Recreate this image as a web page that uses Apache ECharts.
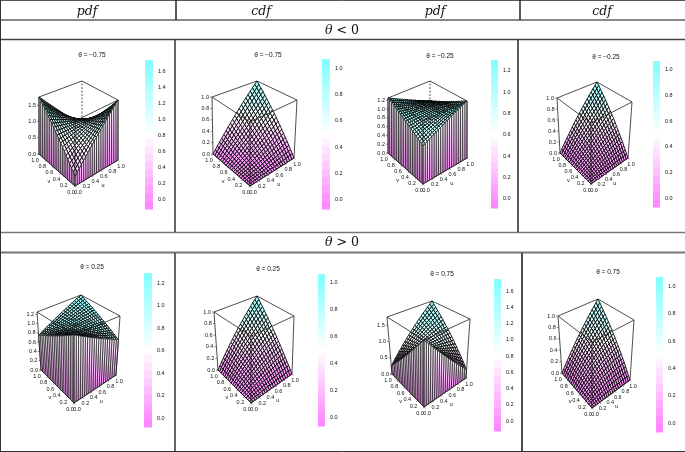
<!DOCTYPE html>
<html><head><meta charset="utf-8">
<style>html,body{margin:0;padding:0;background:#fff}#c{width:685px;height:452px}</style>
<script src="https://cdn.jsdelivr.net/npm/echarts@6/dist/echarts.min.js"></script>
</head><body><div id="c"></div>
<script>
// Surfaces on a 21x21 u,v grid: upper-triangular rows (v index >= u index), the plots are symmetric in u and v.
const pdfM75=[[.25,.33,.40,.48,.55,.63,.70,.78,.85,.93,1,1.08,1.15,1.23,1.30,1.38,1.45,1.53,1.60,1.68,1.75],
[.39,.46,.53,.60,.66,.73,.80,.87,.93,1,1.07,1.14,1.20,1.27,1.34,1.41,1.47,1.54,1.61,1.68],
[.52,.58,.64,.70,.76,.82,.88,.94,1,1.06,1.12,1.18,1.24,1.30,1.36,1.42,1.48,1.54,1.60],
[.63,.69,.74,.79,.84,.90,.95,1,1.05,1.11,1.16,1.21,1.26,1.32,1.37,1.42,1.47,1.53],
[.73,.78,.82,.87,.91,.96,1,1.05,1.09,1.14,1.18,1.23,1.27,1.32,1.36,1.41,1.45],
[.81,.85,.89,.93,.96,1,1.04,1.08,1.11,1.15,1.19,1.23,1.26,1.30,1.34,1.38],
[.88,.91,.94,.97,1,1.03,1.06,1.09,1.12,1.15,1.18,1.21,1.24,1.27,1.30],
[.93,.96,.98,1,1.02,1.05,1.07,1.09,1.11,1.14,1.16,1.18,1.20,1.23],
[.97,.99,1,1.02,1.03,1.05,1.06,1.08,1.09,1.11,1.12,1.14,1.15],
[.99,1,1.01,1.02,1.02,1.03,1.04,1.05,1.05,1.06,1.07,1.08],
[1,1,1,1,1,1,1,1,1,1,1],
[.99,.99,.98,.97,.96,.96,.95,.94,.93,.93],
[.97,.96,.94,.93,.91,.90,.88,.87,.85],
[.93,.91,.89,.87,.84,.82,.80,.78],
[.88,.85,.82,.79,.76,.73,.70],
[.81,.78,.74,.70,.66,.63],
[.73,.69,.64,.60,.55],
[.63,.58,.53,.48],
[.52,.46,.40],
[.39,.33],
[.25]];
const pdfM25=[[.75,.78,.80,.83,.85,.88,.90,.93,.95,.98,1,1.03,1.05,1.08,1.10,1.13,1.15,1.18,1.20,1.23,1.25],
[.80,.82,.84,.87,.89,.91,.93,.96,.98,1,1.02,1.05,1.07,1.09,1.11,1.14,1.16,1.18,1.20,1.23],
[.84,.86,.88,.90,.92,.94,.96,.98,1,1.02,1.04,1.06,1.08,1.10,1.12,1.14,1.16,1.18,1.20],
[.88,.90,.91,.93,.95,.97,.98,1,1.02,1.04,1.05,1.07,1.09,1.11,1.12,1.14,1.16,1.18],
[.91,.93,.94,.96,.97,.99,1,1.02,1.03,1.05,1.06,1.08,1.09,1.11,1.12,1.14,1.15],
[.94,.95,.96,.98,.99,1,1.01,1.03,1.04,1.05,1.06,1.08,1.09,1.10,1.11,1.13],
[.96,.97,.98,.99,1,1.01,1.02,1.03,1.04,1.05,1.06,1.07,1.08,1.09,1.10],
[.98,.99,.99,1,1.01,1.02,1.02,1.03,1.04,1.05,1.05,1.06,1.07,1.08],
[.99,1,1,1.01,1.01,1.02,1.02,1.03,1.03,1.04,1.04,1.05,1.05],
[1,1,1,1.01,1.01,1.01,1.01,1.02,1.02,1.02,1.02,1.03],
[1,1,1,1,1,1,1,1,1,1,1],
[1,1,.99,.99,.99,.99,.98,.98,.98,.98],
[.99,.99,.98,.98,.97,.97,.96,.96,.95],
[.98,.97,.96,.96,.95,.94,.93,.93],
[.96,.95,.94,.93,.92,.91,.90],
[.94,.93,.91,.90,.89,.88],
[.91,.90,.88,.87,.85],
[.88,.86,.84,.83],
[.84,.82,.80],
[.80,.78],
[.75]];
const pdfP25=[[1.25,1.23,1.20,1.18,1.15,1.13,1.10,1.08,1.05,1.03,1,.98,.95,.93,.90,.88,.85,.83,.80,.78,.75],
[1.20,1.18,1.16,1.13,1.11,1.09,1.07,1.04,1.02,1,.98,.95,.93,.91,.89,.86,.84,.82,.80,.77],
[1.16,1.14,1.12,1.10,1.08,1.06,1.04,1.02,1,.98,.96,.94,.92,.90,.88,.86,.84,.82,.80],
[1.12,1.10,1.09,1.07,1.05,1.03,1.02,1,.98,.96,.95,.93,.91,.89,.88,.86,.84,.82],
[1.09,1.07,1.06,1.04,1.03,1.01,1,.98,.97,.95,.94,.92,.91,.89,.88,.86,.85],
[1.06,1.05,1.04,1.02,1.01,1,.99,.97,.96,.95,.94,.92,.91,.90,.89,.87],
[1.04,1.03,1.02,1.01,1,.99,.98,.97,.96,.95,.94,.93,.92,.91,.90],
[1.02,1.01,1.01,1,.99,.98,.98,.97,.96,.95,.95,.94,.93,.92],
[1.01,1,1,.99,.99,.98,.98,.97,.97,.96,.96,.95,.95],
[1,1,1,.99,.99,.99,.99,.98,.98,.98,.98,.97],
[1,1,1,1,1,1,1,1,1,1,1],
[1,1,1.01,1.01,1.01,1.01,1.02,1.02,1.02,1.02],
[1.01,1.01,1.02,1.02,1.03,1.03,1.04,1.04,1.05],
[1.02,1.03,1.04,1.04,1.05,1.06,1.07,1.07],
[1.04,1.05,1.06,1.07,1.08,1.09,1.10],
[1.06,1.07,1.09,1.10,1.11,1.12],
[1.09,1.10,1.12,1.13,1.15],
[1.12,1.14,1.16,1.17],
[1.16,1.18,1.20],
[1.20,1.22],
[1.25]];
const pdfP75=[[1.75,1.67,1.60,1.52,1.45,1.37,1.30,1.22,1.15,1.07,1,.92,.85,.77,.70,.62,.55,.47,.40,.32,.25],
[1.61,1.54,1.47,1.40,1.34,1.27,1.20,1.13,1.07,1,.93,.86,.80,.73,.66,.59,.53,.46,.39,.32],
[1.48,1.42,1.36,1.30,1.24,1.18,1.12,1.06,1,.94,.88,.82,.76,.70,.64,.58,.52,.46,.40],
[1.37,1.31,1.26,1.21,1.16,1.10,1.05,1,.95,.89,.84,.79,.74,.68,.63,.58,.53,.47],
[1.27,1.22,1.18,1.13,1.09,1.04,1,.95,.91,.86,.82,.77,.73,.68,.64,.59,.55],
[1.19,1.15,1.11,1.07,1.04,1,.96,.92,.89,.85,.81,.77,.74,.70,.66,.62],
[1.12,1.09,1.06,1.03,1,.97,.94,.91,.88,.85,.82,.79,.76,.73,.70],
[1.07,1.04,1.02,1,.98,.95,.93,.91,.89,.86,.84,.82,.80,.77],
[1.03,1.01,1,.98,.97,.95,.94,.92,.91,.89,.88,.86,.85],
[1.01,1,.99,.98,.98,.97,.96,.95,.95,.94,.93,.92],
[1,1,1,1,1,1,1,1,1,1,1],
[1.01,1.01,1.02,1.03,1.04,1.04,1.05,1.06,1.07,1.07],
[1.03,1.04,1.06,1.07,1.09,1.10,1.12,1.13,1.15],
[1.07,1.09,1.11,1.13,1.16,1.18,1.20,1.22],
[1.12,1.15,1.18,1.21,1.24,1.27,1.30],
[1.19,1.22,1.26,1.30,1.34,1.37],
[1.27,1.31,1.36,1.40,1.45],
[1.37,1.42,1.47,1.52],
[1.48,1.54,1.60],
[1.61,1.67],
[1.75]];
const zeroRow=[0,0,0,0,0,0,0,0,0,0,0,0,0,0,0,0,0,0,0,0,0];
const cdfM75=[zeroRow,
[0,0,0,0,.01,.01,.01,.01,.01,.02,.02,.02,.02,.03,.03,.03,.04,.04,.05,.05],
[0,.01,.01,.01,.02,.02,.02,.03,.03,.04,.04,.05,.06,.06,.07,.08,.08,.09,.10],
[.01,.01,.02,.02,.03,.04,.04,.05,.06,.07,.08,.08,.09,.10,.12,.13,.14,.15],
[.02,.03,.03,.04,.05,.06,.07,.08,.09,.10,.11,.13,.14,.15,.17,.18,.20],
[.04,.05,.06,.07,.08,.09,.10,.12,.13,.15,.16,.18,.19,.21,.23,.25],
[.06,.07,.08,.10,.11,.13,.14,.16,.18,.20,.21,.23,.26,.28,.30],
[.08,.10,.12,.13,.15,.17,.19,.21,.23,.25,.28,.30,.32,.35],
[.12,.14,.16,.18,.20,.22,.24,.27,.29,.32,.34,.37,.40],
[.16,.18,.20,.23,.25,.28,.30,.33,.36,.39,.42,.45],
[.20,.23,.26,.28,.31,.34,.37,.40,.43,.47,.50],
[.26,.29,.32,.35,.38,.41,.44,.48,.51,.55],
[.32,.35,.38,.42,.45,.49,.52,.56,.60],
[.38,.42,.46,.49,.53,.57,.61,.65],
[.46,.50,.53,.57,.62,.66,.70],
[.54,.58,.62,.66,.71,.75],
[.62,.66,.71,.75,.80],
[.71,.76,.80,.85],
[.80,.85,.90],
[.90,.95],
[1]];
const cdfM25=[zeroRow,
[0,0,.01,.01,.01,.01,.01,.02,.02,.02,.02,.03,.03,.03,.04,.04,.04,.04,.05,.05],
[.01,.01,.02,.02,.03,.03,.03,.04,.04,.05,.05,.06,.07,.07,.08,.08,.09,.09,.10],
[.02,.02,.03,.04,.05,.05,.06,.07,.07,.08,.09,.10,.11,.11,.12,.13,.14,.15],
[.03,.04,.05,.06,.07,.08,.09,.10,.11,.12,.13,.14,.15,.16,.18,.19,.20],
[.05,.07,.08,.09,.10,.11,.13,.14,.15,.17,.18,.19,.21,.22,.24,.25],
[.08,.09,.11,.12,.14,.15,.17,.18,.20,.22,.23,.25,.27,.28,.30],
[.11,.13,.14,.16,.18,.20,.21,.23,.25,.27,.29,.31,.33,.35],
[.15,.17,.19,.21,.23,.25,.27,.29,.31,.33,.35,.38,.40],
[.19,.21,.23,.26,.28,.30,.33,.35,.37,.40,.42,.45],
[.23,.26,.29,.31,.34,.36,.39,.42,.44,.47,.50],
[.29,.32,.34,.37,.40,.43,.46,.49,.52,.55],
[.35,.38,.41,.44,.47,.50,.53,.57,.60],
[.41,.44,.48,.51,.55,.58,.61,.65],
[.48,.52,.55,.59,.63,.66,.70],
[.55,.59,.63,.67,.71,.75],
[.63,.67,.72,.76,.80],
[.72,.76,.81,.85],
[.81,.85,.90],
[.90,.95],
[1]];
const cdfP25=[zeroRow,
[0,.01,.01,.01,.01,.02,.02,.02,.03,.03,.03,.03,.04,.04,.04,.04,.04,.05,.05,.05],
[.01,.02,.02,.03,.03,.04,.05,.05,.06,.06,.07,.07,.07,.08,.08,.09,.09,.10,.10],
[.03,.04,.04,.05,.06,.07,.08,.08,.09,.10,.10,.11,.12,.13,.13,.14,.14,.15],
[.05,.06,.07,.08,.09,.10,.11,.12,.13,.14,.15,.16,.17,.18,.18,.19,.20],
[.07,.08,.10,.11,.12,.14,.15,.16,.17,.18,.20,.21,.22,.23,.24,.25],
[.10,.12,.13,.15,.16,.18,.19,.21,.22,.23,.25,.26,.27,.29,.30],
[.14,.15,.17,.19,.21,.22,.24,.26,.27,.29,.30,.32,.34,.35],
[.17,.19,.22,.23,.25,.27,.29,.31,.33,.35,.37,.38,.40],
[.22,.24,.26,.28,.31,.33,.35,.37,.39,.41,.43,.45],
[.27,.29,.32,.34,.36,.39,.41,.43,.46,.48,.50],
[.32,.34,.37,.40,.42,.45,.48,.50,.53,.55],
[.37,.40,.43,.46,.49,.52,.55,.57,.60],
[.44,.47,.50,.53,.56,.59,.62,.65],
[.50,.53,.57,.60,.63,.67,.70],
[.57,.61,.64,.68,.71,.75],
[.65,.69,.72,.76,.80],
[.73,.77,.81,.85],
[.81,.86,.90],
[.90,.95],
[1]];
const cdfP75=[zeroRow,
[0,.01,.01,.02,.02,.02,.03,.03,.03,.03,.04,.04,.04,.04,.04,.05,.05,.05,.05,.05],
[.02,.02,.03,.04,.04,.05,.06,.06,.07,.07,.08,.08,.08,.09,.09,.09,.10,.10,.10],
[.03,.05,.06,.07,.07,.08,.09,.10,.11,.11,.12,.13,.13,.14,.14,.14,.15,.15],
[.06,.07,.09,.10,.11,.12,.13,.14,.15,.16,.17,.17,.18,.19,.19,.20,.20],
[.09,.10,.12,.13,.15,.16,.17,.18,.19,.20,.21,.22,.23,.24,.24,.25],
[.12,.14,.16,.17,.19,.20,.22,.23,.24,.25,.27,.28,.28,.29,.30],
[.16,.18,.20,.22,.23,.25,.27,.28,.29,.31,.32,.33,.34,.35],
[.20,.22,.25,.26,.28,.30,.32,.33,.35,.36,.38,.39,.40],
[.25,.27,.29,.31,.33,.35,.37,.39,.41,.42,.44,.45],
[.30,.32,.35,.37,.39,.41,.43,.45,.47,.48,.50],
[.35,.37,.40,.42,.45,.47,.49,.51,.53,.55],
[.40,.43,.46,.48,.51,.53,.56,.58,.60],
[.46,.49,.52,.55,.57,.60,.63,.65],
[.52,.55,.59,.62,.64,.67,.70],
[.59,.62,.66,.69,.72,.75],
[.66,.70,.73,.77,.80],
[.73,.77,.81,.85],
[.82,.86,.90],
[.90,.95],
[1]];

const thetaTitles=['θ = −0.75','θ = −0.75','θ = −0.25','θ = −0.25','θ = 0.25','θ = 0.25','θ = 0.75','θ = 0.75'];
const surfaces=[pdfM75,cdfM75,pdfM25,cdfM25,pdfP25,cdfP25,pdfP75,cdfP75];
const zMaxes=[1.75,1,1.25,1,1.25,1,1.75,1];
const uvTicks=[0,.2,.4,.6,.8,1];
const zTicks=[[0,.5,1,1.5],[0,.2,.4,.6,.8,1],[0,.2,.4,.6,.8,1,1.2],[0,.2,.4,.6,.8,1],[0,.2,.4,.6,.8,1,1.2],[0,.2,.4,.6,.8,1],[0,.5,1,1.5],[0,.2,.4,.6,.8,1]];
const barTicks=[[0,.2,.4,.6,.8,1,1.2,1.4,1.6],[0,.2,.4,.6,.8,1],[0,.2,.4,.6,.8,1,1.2],[0,.2,.4,.6,.8,1],[0,.2,.4,.6,.8,1,1.2],[0,.2,.4,.6,.8,1],[0,.2,.4,.6,.8,1,1.2,1.4,1.6],[0,.2,.4,.6,.8,1]];
const barRanges=[[-.116,1.746],[-.07,1.07],[-.085,1.30],[-.07,1.07],[-.08,1.29],[-.067,1.067],[-.123,1.75],[-.066,1.07]];

// Layout: box corner pixels (lower case bottom, upper case top), colour bar rect, title anchor.
const boxes=[
 {f:[75,186],r:[118,160],l:[39,154],b:[82,131],F:[75,121],R:[118,100],L:[39,97],B:[82,81]},
 {f:[250,186],r:[294,158],l:[213,154],b:[257,131],F:[250,122],R:[297,100],L:[212,97],B:[257,81]},
 {f:[423,184],r:[467,158],l:[388,153],b:[430,131],F:[423,121],R:[467,101],L:[388,98],B:[430,81]},
 {f:[591,184],r:[628,158],l:[560,153],b:[597,132],F:[591,123],R:[632,102],L:[557,98],B:[597,82]},
 {f:[74,403],r:[116,375],l:[41,370],b:[81,347],F:[74,335],R:[120,316],L:[37,312],B:[81,295]},
 {f:[251,403],r:[292,374],l:[218,370],b:[257,347],F:[251,336],R:[294,316],L:[214,312],B:[257,296]},
 {f:[424,407],r:[466,378],l:[392,374],b:[432,351],F:[424,340],R:[470,319],L:[387,317],B:[432,301]},
 {f:[592,408],r:[630,380],l:[562,373],b:[598,352],F:[592,342],R:[634,320],L:[558,316],B:[598,299]}
];
const barRects=[[145,60,8,149],[322,59,8,150],[491,60,7,148],[653,61,7,146],[144,273,8,154],[318,274,7,152],[494,279,7,152],[656,277,7,155]];
const titleAt=[[87,47],[263,47],[435,48],[601,49],[87,259],[263,261],[437,266],[603,264]];
const plotRects=[[2,42,140,188],[178,42,140,188],[352,42,138,188],[522,42,130,188],[2,254,140,196],[178,254,138,196],[352,254,140,196],[524,254,130,196]];

function lerp(a,b,t){return a+(b-a)*t;}
function bil(a,b,c,d,u,v,k){return lerp(lerp(a[k],b[k],u),lerp(c[k],d[k],u),v);}
function proj(bx,u,v,zf){
  return [0,1].map(k=>lerp(bil(bx.f,bx.r,bx.l,bx.b,u,v,k),bil(bx.F,bx.R,bx.L,bx.B,u,v,k),zf));
}
function ramp(val,rg){
  const t=Math.max(0,Math.min(1,(val-rg[0])/(rg[1]-rg[0])));
  const c=t<.5?[255,lerp(128,255,t*2),255]:[lerp(255,128,(t-.5)*2),255,255];
  return 'rgb('+c.map(Math.round).join(',')+')';
}
function fullGrid(tri){
  const n=tri.length,g=[];
  for(let i=0;i<n;i++){g.push([]);for(let j=0;j<n;j++){g[i].push(j>=i?tri[i][j-i]:tri[j][i-j]);}}
  return g;
}
const series=[],grid=[],xAxis=[],yAxis=[],title=[];
surfaces.forEach((tri,p)=>{
  const bx=boxes[p],zm=zMaxes[p],rg=barRanges[p],pr=plotRects[p],g=fullGrid(tri),n=g.length,gi=p*2,bi=p*2+1;
  grid.push({left:pr[0],top:pr[1],width:pr[2],height:pr[3]});
  xAxis.push({type:'value',gridIndex:gi,min:pr[0],max:pr[0]+pr[2],show:false});
  yAxis.push({type:'value',gridIndex:gi,min:pr[1],max:pr[1]+pr[3],inverse:true,show:false});
  const br=barRects[p];
  grid.push({left:br[0],top:br[1],width:br[2],height:br[3]});
  xAxis.push({type:'value',gridIndex:bi,min:0,max:1,show:false});
  yAxis.push({type:'value',gridIndex:bi,min:rg[0],max:rg[1],position:'right',axisLine:{show:false},axisTick:{show:false},splitLine:{show:false},
    axisLabel:{customValues:barTicks[p],formatter:v=>v.toFixed(1),fontSize:5.5,margin:5,color:'#111',fontFamily:'Liberation Sans'}});
  title.push({text:thetaTitles[p],left:titleAt[p][0],top:titleAt[p][1],textAlign:'center',textStyle:{fontSize:6.5,fontWeight:'normal',color:'#111',fontFamily:'Liberation Sans'}});
  const bands=[];const N=19;for(let k=0;k<N;k++){bands.push([lerp(rg[0],rg[1],k/N),lerp(rg[0],rg[1],(k+1)/N)]);}
  series.push({type:'custom',xAxisIndex:bi,yAxisIndex:bi,data:bands,animation:false,silent:true,encode:{y:[0,1]},
    renderItem:(pa,api)=>{
      const lo=api.value(0),hi=api.value(1),a=api.coord([0,lo]),b=api.coord([1,hi]);
      return {type:'rect',shape:{x:a[0],y:b[1],width:b[0]-a[0],height:a[1]-b[1]+.5},style:{fill:ramp((lo+hi)/2,rg)}};
    }});
  const edgeSeries=(edges,st)=>({type:'custom',xAxisIndex:gi,yAxisIndex:gi,data:edges,animation:false,silent:true,clip:false,
    renderItem:(pa,api)=>{
      const v=[0,1,2,3,4,5].map(i=>api.value(i));
      const a=api.coord(proj(bx,v[0],v[1],v[2])),b=api.coord(proj(bx,v[3],v[4],v[5]));
      return {type:'line',shape:{x1:a[0],y1:a[1],x2:b[0],y2:b[1]},style:st};
    }});
  series.push(edgeSeries([[0,1,1,1,1,1],[1,0,1,1,1,1]],{stroke:'#222',lineWidth:.8}));
  series.push(edgeSeries([[1,1,0,1,1,1]],{stroke:'#111',lineWidth:.7,lineDash:[2,1.5]}));
  const quads=[];
  for(let s=2*(n-2);s>=0;s--)for(let i=n-2;i>=0;i--){const j=s-i;if(j<0||j>n-2)continue;
    quads.push([i/(n-1),j/(n-1),(i+1)/(n-1),(j+1)/(n-1),g[i][j],g[i+1][j],g[i+1][j+1],g[i][j+1]]);}
  series.push({type:'custom',xAxisIndex:gi,yAxisIndex:gi,data:quads,animation:false,silent:true,clip:false,progressive:0,
    renderItem:(pa,api)=>{
      const [u0,v0,u1,v1,a,b,c,d]=[0,1,2,3,4,5,6,7].map(i=>api.value(i));
      const pts=[[u0,v0,a],[u1,v0,b],[u1,v1,c],[u0,v1,d]].map(q=>api.coord(proj(bx,q[0],q[1],q[2]/zm)));
      return {type:'polygon',shape:{points:pts},style:{fill:ramp((a+b+c+d)/4,rg),stroke:'#000',lineWidth:.85}};
    }});
  const walls=[];
  for(let k=n-2;k>=0;k--){
    walls.push([0,k/(n-1),0,(k+1)/(n-1),g[0][k],g[0][k+1]]);
    walls.push([k/(n-1),0,(k+1)/(n-1),0,g[k][0],g[k+1][0]]);
  }
  const wallTopLimit=(rg[0]+rg[1])/2;
  series.push({type:'custom',xAxisIndex:gi,yAxisIndex:gi,data:walls,animation:false,silent:true,clip:false,progressive:0,
    renderItem:(pa,api)=>{
      const [u0,v0,u1,v1,a,b]=[0,1,2,3,4,5].map(i=>api.value(i));
      if(a+b<=0.02) return null;
      const pts=[[u0,v0,0],[u1,v1,0],[u1,v1,b],[u0,v0,a]].map(q=>api.coord(proj(bx,q[0],q[1],q[2]/zm)));
      const top=Math.min(Math.max(a,b),wallTopLimit);
      return {type:'polygon',shape:{points:pts},style:{
        fill:new echarts.graphic.LinearGradient(0,1,0,0,[{offset:0,color:ramp(0,rg)},{offset:1,color:ramp(top,rg)}]),
        stroke:'#2a2a2a',lineWidth:.8}};
    }});
  series.push(edgeSeries([[0,1,0,0,1,1],[1,0,0,1,0,1],[0,1,1,0,0,1],[1,0,1,0,0,1],[0,0,0,1,0,0],[0,0,0,0,1,0],[0,0,0,0,0,1]],{stroke:'#222',lineWidth:.8}));
  const ticks=[];
  uvTicks.forEach(t=>{ticks.push(['u',t]);ticks.push(['v',t]);});
  zTicks[p].forEach(t=>ticks.push(['z',t]));
  ticks.push(['nu',0]);ticks.push(['nv',0]);
  const fnt=5.5;
  series.push({type:'custom',xAxisIndex:gi,yAxisIndex:gi,data:ticks.map((t,i)=>[i,t[1]]),animation:false,silent:true,clip:false,progressive:0,
    renderItem:(pa,api)=>{
      const kind=ticks[api.value(0)][0],t=api.value(1);
      let P,off,tick,align='center',txt=t.toFixed(1);
      if(kind==='u'){P=proj(bx,t,0,0);off=[3,6];tick=[1.3,1.5];}
      else if(kind==='v'){P=proj(bx,0,t,0);off=[-4,6];tick=[-1.3,1.5];}
      else if(kind==='z'){P=proj(bx,0,1,t/zm);off=[-3,0];tick=[-2,0];align='right';}
      else if(kind==='nu'){P=proj(bx,.7,0,0);off=[-2,18];tick=[0,0];txt='u';}
      else {P=proj(bx,0,.7,0);off=[-1,18];tick=[0,0];txt='v';}
      const c=api.coord(P);
      return {type:'group',children:[
        {type:'line',shape:{x1:c[0],y1:c[1],x2:c[0]+tick[0],y2:c[1]+tick[1]},style:{stroke:'#222',lineWidth:.5}},
        {type:'text',x:c[0]+off[0],y:c[1]+off[1],style:{text:txt,fontSize:fnt,fontFamily:'Liberation Sans',fill:'#111',align:align,verticalAlign:'middle'}}
      ]};
    }});
});
const headers=['pdf','cdf','pdf','cdf'],headerX=[87,261,435,602];
const rowLabels=[['θ','< 0',31],['θ','> 0',243]];
const hf='DejaVu Serif';
headers.forEach((h,i)=>title.push({text:h,left:headerX[i],top:5,padding:0,textAlign:'center',textStyle:{fontSize:12.5,fontStyle:'italic',fontWeight:'normal',color:'#111',fontFamily:hf}}));
rowLabels.forEach(r=>title.push({text:'{i|'+r[0]+'} '+r[1],left:342,top:r[2]-7,padding:0,textAlign:'center',textStyle:{fontSize:12.5,fontWeight:'normal',color:'#111',fontFamily:hf,rich:{i:{fontSize:12.5,fontStyle:'italic',fontFamily:hf,color:'#111'}}}}));
const rules=[[0,.5,685,.5,'#555',1],[0,20,685,20,'#888',2],[0,39.5,685,39.5,'#444',1.5],[0,232.5,685,232.5,'#777',1.5],[0,252.5,685,252.5,'#777',2],[0,451.5,685,451.5,'#333',1],
 [.5,0,.5,452,'#333',1],[176,0,176,20,'#222',1.5],[175,40,175,232,'#333',1.5],[175,253,175,451,'#333',1.5],[520,0,520,20,'#222',1.5],[518,40,518,232,'#222',1.5],[522,253,522,451,'#111',1.5]];
const graphic=rules.map(r=>({type:'line',shape:{x1:r[0],y1:r[1],x2:r[2],y2:r[3]},style:{stroke:r[4],lineWidth:r[5]},silent:true}));
const chart=echarts.init(document.getElementById('c'),null,{renderer:'canvas'});
chart.setOption({animation:false,backgroundColor:'#fff',title,grid,xAxis,yAxis,series,graphic});
</script></body></html>
